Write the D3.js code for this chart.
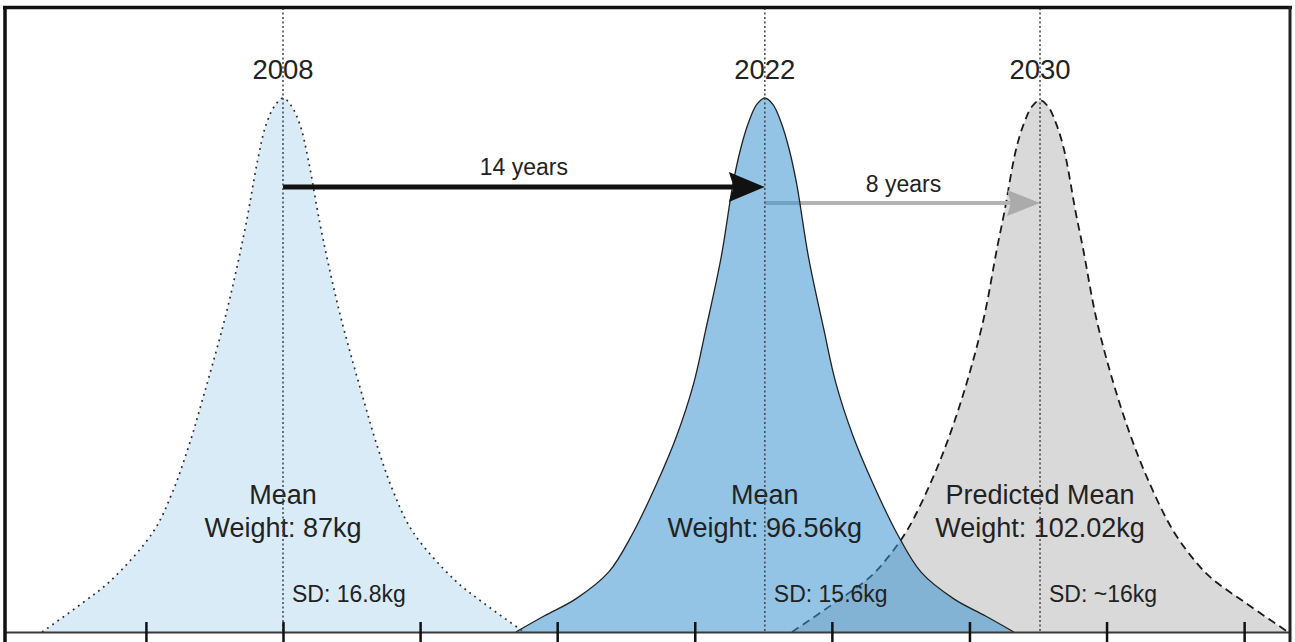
<!DOCTYPE html>
<html>
<head>
<meta charset="utf-8">
<script src="https://cdn.jsdelivr.net/npm/d3@7"></script>
<style>
  html, body { margin: 0; padding: 0; background: #fff; }
  svg { display: block; font-family: "Liberation Sans", Arial, Helvetica, sans-serif; }
</style>
</head>
<body>
<svg id="chart" width="1295" height="642"></svg>
<script>
// ---------------- data ----------------
const years = ["2008", "2022", "2030"];
const meanWeights = [87, 96.56, 102.02];            // kg
const meanLabelTop = ["Mean", "Mean", "Predicted Mean"];
const meanLabelBottom = ["Weight: 87kg", "Weight: 96.56kg", "Weight: 102.02kg"];
const sdLabels = ["SD: 16.8kg", "SD: 15.6kg", "SD: ~16kg"];
const gapLabels = ["14 years", "8 years"];
const weightTicks = [84.28, 87, 89.72, 92.44, 95.17, 97.89, 100.62, 103.34, 106.07];

// half-profiles of each curve: [distance from mean in kg, relative density]
const profile2008 = [[0, 1], [0.16, 0.986], [0.34, 0.949], [0.50, 0.885], [0.73, 0.766],
  [0.94, 0.672], [1.15, 0.588], [1.39, 0.504], [1.61, 0.431], [1.83, 0.360], [2.18, 0.265],
  [2.58, 0.187], [3.41, 0.097], [3.97, 0.055], [4.78, 0]];
const profile2022 = [[0, 1], [0.16, 0.988], [0.32, 0.955], [0.48, 0.905], [0.63, 0.84],
  [0.87, 0.700], [1.17, 0.567], [1.41, 0.466], [1.75, 0.367], [2.14, 0.279], [2.62, 0.185],
  [3.10, 0.112], [3.75, 0.062], [4.38, 0.030], [4.94, 0]];
const profile2030 = [[0, 0.996], [0.16, 0.984], [0.32, 0.952], [0.48, 0.902], [0.71, 0.785],
  [0.85, 0.72], [1.11, 0.59], [1.41, 0.481], [1.75, 0.38], [2.12, 0.29], [2.64, 0.19],
  [3.12, 0.128], [3.41, 0.10], [4.07, 0.055], [4.92, 0]];
const profiles = [profile2008, profile2022, profile2030];

// ---------------- layout ----------------
const W = 1295, H = 642;
const left = 5, right = 1290, baseY = 632, peakY = 98, topY = 8;
const svg = d3.select("#chart");

const x = d3.scaleLinear().domain([81.484, 106.98]).range([left, right]);
const y = d3.scaleLinear().domain([0, 1]).range([baseY, peakY]);

function curvePoints(i) {
  const m = meanWeights[i], p = profiles[i];
  const lft = p.slice().reverse().map(([o, d]) => [m - o, d]);
  const rgt = p.slice(1).map(([o, d]) => [m + o, d]);
  return lft.concat(rgt);
}

const smooth = d3.curveCatmullRom.alpha(0.5);
const area = d3.area().x(d => x(d[0])).y0(y(0)).y1(d => y(d[1])).curve(smooth);
const line = d3.line().x(d => x(d[0])).y(d => y(d[1])).curve(smooth);

svg.append("defs").append("clipPath").attr("id", "clip")
  .append("rect").attr("x", left).attr("y", 0).attr("width", right - left).attr("height", baseY);

const plot = svg.append("g").attr("clip-path", "url(#clip)");

// 2030 (back)
const p2030 = curvePoints(2);
plot.append("path").datum(p2030).attr("d", area).attr("fill", "#d9d9d9");
plot.append("path").datum(p2030).attr("d", line).attr("fill", "none")
  .attr("stroke", "#1a1a1a").attr("stroke-width", 1.8).attr("stroke-dasharray", "8,5");

// 2008
const p2008 = curvePoints(0);
plot.append("path").datum(p2008).attr("d", area).attr("fill", "#daebf8");
plot.append("path").datum(p2008).attr("d", line).attr("fill", "none")
  .attr("stroke", "#2a2a2a").attr("stroke-width", 1.7).attr("stroke-dasharray", "1.8,4.5");

// grey arrow 2022 -> 2030 (under the translucent 2022 fill)
const gArrowY = 203, bArrowY = 187;
plot.append("line").attr("x1", x(meanWeights[1])).attr("x2", x(meanWeights[2]) - 28)
  .attr("y1", gArrowY).attr("y2", gArrowY).attr("stroke", "#b4b4b4").attr("stroke-width", 4);
plot.append("path")
  .attr("d", `M${x(meanWeights[2])},${gArrowY} L${x(meanWeights[2]) - 33},${gArrowY - 13} L${x(meanWeights[2]) - 29},${gArrowY} L${x(meanWeights[2]) - 33},${gArrowY + 13} Z`)
  .attr("fill", "#ababab");

// 2022
const p2022 = curvePoints(1);
plot.append("path").datum(p2022).attr("d", area).attr("fill", "rgb(58,148,209)").attr("fill-opacity", 0.55);
plot.append("path").datum(p2022).attr("d", line).attr("fill", "none")
  .attr("stroke", "#222").attr("stroke-width", 1.3);

// black arrow 2008 -> 2022
plot.append("line").attr("x1", x(meanWeights[0])).attr("x2", x(meanWeights[1]) - 30)
  .attr("y1", bArrowY).attr("y2", bArrowY).attr("stroke", "#111").attr("stroke-width", 5);
plot.append("path")
  .attr("d", `M${x(meanWeights[1])},${bArrowY} L${x(meanWeights[1]) - 36},${bArrowY - 15} L${x(meanWeights[1]) - 31},${bArrowY} L${x(meanWeights[1]) - 36},${bArrowY + 15} Z`)
  .attr("fill", "#111");

// texts
const txt = svg.append("g").attr("fill", "#222");
years.forEach((yr, i) => {
  const cx = x(meanWeights[i]);
  txt.append("text").attr("x", cx).attr("y", 79).attr("text-anchor", "middle")
    .attr("font-size", 27.5).text(yr);
  txt.append("text").attr("x", cx).attr("y", 504).attr("text-anchor", "middle")
    .attr("font-size", 27).text(meanLabelTop[i]);
  txt.append("text").attr("x", cx).attr("y", 537).attr("text-anchor", "middle")
    .attr("font-size", 27).text(meanLabelBottom[i]);
  txt.append("text").attr("x", cx + 9).attr("y", 602).attr("text-anchor", "start")
    .attr("font-size", 23).text(sdLabels[i]);
});
txt.append("text").attr("x", (x(meanWeights[0]) + x(meanWeights[1])) / 2).attr("y", 175)
  .attr("text-anchor", "middle").attr("font-size", 23).text(gapLabels[0]);
txt.append("text").attr("x", (x(meanWeights[1]) + x(meanWeights[2])) / 2 + 1).attr("y", 192)
  .attr("text-anchor", "middle").attr("font-size", 23).text(gapLabels[1]);

// vertical dotted mean lines
svg.append("g").selectAll("line").data(meanWeights).join("line")
  .attr("x1", d => x(d)).attr("x2", d => x(d))
  .attr("y1", topY).attr("y2", baseY)
  .attr("stroke", "#444").attr("stroke-width", 1.5).attr("stroke-dasharray", "2,2.5");

// axis
const axis = svg.append("g").attr("transform", `translate(0,${baseY})`)
  .call(d3.axisBottom(x).tickValues(weightTicks).tickSize(10).tickSizeOuter(0).tickFormat(""));
axis.select(".domain").attr("stroke", "#3a3a3a").attr("stroke-width", 2.2);
axis.selectAll(".tick line").attr("y1", -10).attr("y2", 10).attr("stroke", "#111").attr("stroke-width", 2.5);

// frame
svg.append("line").attr("x1", 3).attr("x2", 1292).attr("y1", 7.5).attr("y2", 7.5)
  .attr("stroke", "#111").attr("stroke-width", 3.5);
svg.append("line").attr("x1", 5).attr("x2", 5).attr("y1", 6).attr("y2", H)
  .attr("stroke", "#111").attr("stroke-width", 3.5);
svg.append("line").attr("x1", 1290).attr("x2", 1290).attr("y1", 6).attr("y2", H)
  .attr("stroke", "#222").attr("stroke-width", 3);
</script>
</body>
</html>
